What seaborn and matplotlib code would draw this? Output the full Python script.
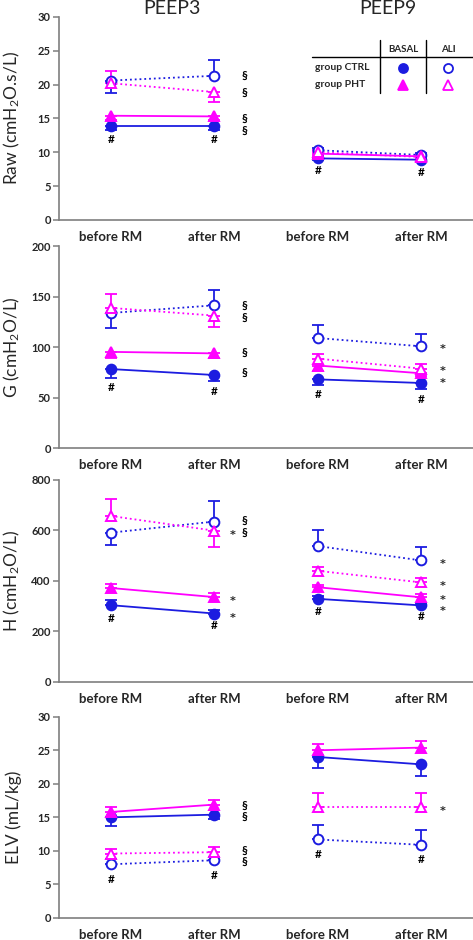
import numpy as np
import matplotlib
matplotlib.use("Agg")
import matplotlib.pyplot as plt
import seaborn as sns

# Categories
x_pos = [0, 1, 2, 3]
x_labels = ["before RM", "after RM", "before RM", "after RM"]
peeps = ["PEEP3", "PEEP9"]
series = ["CTRL BASAL", "CTRL ALI", "PHT BASAL", "PHT ALI"]

# Means per series (order: PEEP3 before, PEEP3 after, PEEP9 before, PEEP9 after)
# Error bars are one-sided: positive = drawn upwards, negative = drawn downwards
raw_ctrl_basal = [13.9, 13.9, 9.1, 8.9]
raw_ctrl_ali = [20.6, 21.3, 10.3, 9.6]
raw_pht_basal = [15.4, 15.3, 9.8, 9.4]
raw_pht_ali = [20.2, 18.9, 10.0, 9.3]
raw_ctrl_basal_err = [-0.6, -0.6, -0.3, -0.3]
raw_ctrl_ali_err = [-1.8, 2.4, 0.3, 0.3]
raw_pht_basal_err = [-0.6, -0.6, -0.3, -0.3]
raw_pht_ali_err = [1.8, -1.4, 0.3, 0.3]

g_ctrl_basal = [78.5, 72.6, 68.3, 64.7]
g_ctrl_ali = [134, 141.6, 109.2, 101]
g_pht_basal = [95.5, 94, 82, 74.3]
g_pht_ali = [139, 131.4, 88.8, 78.9]
g_ctrl_basal_err = [-9, -6, -6, -6]
g_ctrl_ali_err = [-15, 15, 13, 12.5]
g_pht_basal_err = [-6, -5, -5, -3]
g_pht_ali_err = [13.5, -11.5, 5, 4.6]

h_ctrl_basal = [304, 271, 329, 303]
h_ctrl_ali = [591, 635, 538, 481]
h_pht_basal = [372, 336, 375, 335]
h_pht_ali = [657, 599, 440, 394]
h_ctrl_basal_err = [20, 12, 12, 8]
h_ctrl_ali_err = [-49, 83, 64, 52]
h_pht_basal_err = [15, 15, 10, 13]
h_pht_ali_err = [66, -64, 16, 16]

elv_ctrl_basal = [15.0, 15.4, 24.0, 22.9]
elv_ctrl_ali = [8.0, 8.6, 11.7, 10.9]
elv_pht_basal = [15.8, 16.9, 25.0, 25.4]
elv_pht_ali = [9.6, 9.8, 16.5, 16.5]
elv_ctrl_basal_err = [-1.3, -0.7, -1.6, -1.8]
elv_ctrl_ali_err = [0.8, 0.5, 2.1, 2.2]
elv_pht_basal_err = [0.8, 0.7, 0.9, 1.0]
elv_pht_ali_err = [0.7, 0.8, 2.2, 2.2]

# Significance marks (x, y, symbol)
raw_notes = [(1.29, 21.3, "§"), (1.29, 18.8, "§"), (1.29, 15.05, "§"), (1.29, 13.3, "§"),
             (0, 11.9, "#"), (1, 11.9, "#"), (2, 7.25, "#"), (3, 7.0, "#")]
g_notes = [(1.29, 142, "§"), (1.29, 130, "§"), (1.29, 95, "§"), (1.29, 75, "§"),
           (3.21, 101.6, "*"), (3.21, 80, "*"), (3.21, 68, "*"),
           (0, 60, "#"), (1, 56, "#"), (2, 53, "#"), (3, 48, "#")]
h_notes = [(1.29, 638, "§"), (1.29, 593, "§"), (1.18, 596, "*"), (1.18, 333, "*"), (1.18, 267, "*"),
           (3.21, 479, "*"), (3.21, 393, "*"), (3.21, 340, "*"), (3.21, 295, "*"),
           (0, 251, "#"), (1, 222, "#"), (2, 278, "#"), (3, 258, "#")]
elv_notes = [(1.29, 16.8, "§"), (1.29, 15.1, "§"), (1.29, 10.1, "§"), (1.29, 8.4, "§"),
             (3.21, 16.5, "*"), (0, 5.7, "#"), (1, 6.3, "#"), (2, 9.45, "#"), (3, 8.7, "#")]

BLUE = "#1c1ce0"
MAGENTA = "#ff00ff"
styles = {
    "CTRL BASAL": dict(color=BLUE, marker="o", fill=True, ls="-"),
    "CTRL ALI": dict(color=BLUE, marker="o", fill=False, ls=":"),
    "PHT BASAL": dict(color=MAGENTA, marker="^", fill=True, ls="-"),
    "PHT ALI": dict(color=MAGENTA, marker="^", fill=False, ls=":"),
}

panels = [
    ("Raw (cmH$_2$O.s/L)", 30, 5,
     [raw_ctrl_basal, raw_ctrl_ali, raw_pht_basal, raw_pht_ali],
     [raw_ctrl_basal_err, raw_ctrl_ali_err, raw_pht_basal_err, raw_pht_ali_err], raw_notes),
    ("G (cmH$_2$O/L)", 200, 50,
     [g_ctrl_basal, g_ctrl_ali, g_pht_basal, g_pht_ali],
     [g_ctrl_basal_err, g_ctrl_ali_err, g_pht_basal_err, g_pht_ali_err], g_notes),
    ("H (cmH$_2$O/L)", 800, 200,
     [h_ctrl_basal, h_ctrl_ali, h_pht_basal, h_pht_ali],
     [h_ctrl_basal_err, h_ctrl_ali_err, h_pht_basal_err, h_pht_ali_err], h_notes),
    ("ELV (mL/kg)", 30, 5,
     [elv_ctrl_basal, elv_ctrl_ali, elv_pht_basal, elv_pht_ali],
     [elv_ctrl_basal_err, elv_ctrl_ali_err, elv_pht_basal_err, elv_pht_ali_err], elv_notes),
]

sns.set_style("white")
plt.rcParams["font.family"] = ["Lato", "DejaVu Sans"]
plt.rcParams["mathtext.default"] = "regular"

fig = plt.figure(figsize=(4.73, 9.40), dpi=100)
# axes rectangles (left, bottom, width, height)
rects = [(0.125, 0.766, 0.875, 0.216),
         (0.125, 0.523, 0.875, 0.215),
         (0.125, 0.2745, 0.875, 0.215),
         (0.125, 0.0235, 0.875, 0.214)]

for (ylabel, ymax, ystep, means, errs, notes), rect in zip(panels, rects):
    ax = fig.add_axes(rect)
    for name, vals, err in zip(series, means, errs):
        st = styles[name]
        vals = np.array(vals, dtype=float)
        err = np.array(err, dtype=float)
        lo = np.where(err < 0, -err, 0)
        hi = np.where(err > 0, err, 0)
        ax.errorbar(x_pos, vals, yerr=[lo, hi], fmt="none", ecolor=st["color"],
                    elinewidth=1.3, capsize=4, capthick=1.3, zorder=2)
        for seg in ([0, 1], [2, 3]):
            sns.lineplot(x=[x_pos[i] for i in seg], y=vals[seg], ax=ax,
                         color=st["color"], linestyle=st["ls"], linewidth=1.3,
                         marker=st["marker"], markersize=7 if st["marker"] == "o" else 7.5,
                         markerfacecolor=st["color"] if st["fill"] else "white",
                         markeredgecolor=st["color"], markeredgewidth=1.4, zorder=3)
    for x, y, s in notes:
        if s == "*":
            # asterisk glyph sits high; nudge it down to the mark's level
            ax.annotate(s, (x, y), xytext=(0, -2.5), textcoords="offset points",
                        ha="center", va="center", fontsize=8, fontweight="bold",
                        family="DejaVu Sans", zorder=4)
        else:
            ax.text(x, y, s, ha="center", va="center", fontsize=8.5, fontweight="bold",
                    color="black", zorder=4)

    ax.set_xlim(-0.5, 3.5)
    ax.set_ylim(0, ymax)
    ax.set_yticks(np.arange(0, ymax + ystep, ystep))
    ax.set_xticks(x_pos)
    ax.set_xticklabels(x_labels, fontsize=9.5, fontweight="bold")
    ax.tick_params(axis="x", length=0, pad=8)
    ax.tick_params(axis="y", length=4, width=1.1, color="#7f7f7f", labelsize=8, pad=2,
                   left=True)
    for lab in ax.get_yticklabels():
        lab.set_fontweight("bold")
    ax.set_xlabel("")
    ax.set_ylabel(ylabel, fontsize=12.5)
    ax.yaxis.set_label_coords(-0.09, 0.5)
    sns.despine(ax=ax)
    for sp in ("left", "bottom"):
        ax.spines[sp].set_color("#7f7f7f")
        ax.spines[sp].set_linewidth(1.2)

    if ylabel.startswith("Raw"):
        # legend table
        tr = ax.transAxes
        ax.plot([0.775, 0.775], [0.626, 0.887], color="black", lw=1, transform=tr, clip_on=False)
        ax.plot([0.887, 0.887], [0.626, 0.887], color="black", lw=1, transform=tr, clip_on=False)
        ax.plot([0.611, 1.0], [0.803, 0.803], color="black", lw=1, transform=tr, clip_on=False)
        ax.text(0.831, 0.84, "BASAL", transform=tr, ha="center", va="center", fontsize=7, fontweight="bold")
        ax.text(0.940, 0.84, "ALI", transform=tr, ha="center", va="center", fontsize=7, fontweight="bold")
        ax.text(0.618, 0.749, "group CTRL", transform=tr, ha="left", va="center", fontsize=7.5, fontweight="bold")
        ax.text(0.618, 0.665, "group PHT", transform=tr, ha="left", va="center", fontsize=7.5, fontweight="bold")
        leg_items = [("CTRL BASAL", 0.831, 0.749), ("CTRL ALI", 0.940, 0.749),
                     ("PHT BASAL", 0.831, 0.665), ("PHT ALI", 0.940, 0.665)]
        for name, lx, ly in leg_items:
            st = styles[name]
            ax.plot([lx], [ly], transform=tr, linestyle="none", marker=st["marker"],
                    markersize=6.5, color=st["color"],
                    markerfacecolor=st["color"] if st["fill"] else "white",
                    markeredgewidth=1.3, clip_on=False)

fig.text(172 / 473, 1 - 9 / 940, peeps[0], ha="center", va="center", fontsize=14)
fig.text(388 / 473, 1 - 9 / 940, peeps[1], ha="center", va="center", fontsize=14)

fig.savefig("out.png", dpi=100)
